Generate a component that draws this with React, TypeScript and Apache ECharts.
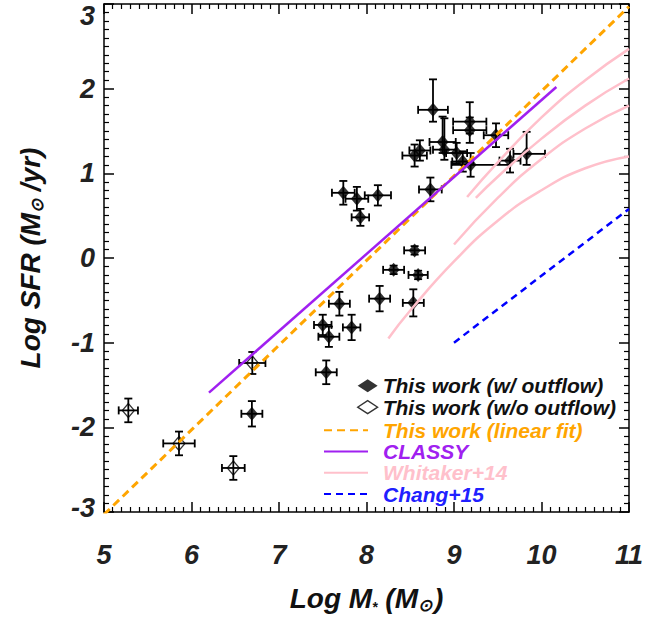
import React, { useEffect, useRef } from "react";
import * as echarts from "echarts";

// [logM, logSFR, xErrLow, xErrHigh, yErrLow, yErrHigh]
const withOutflow: number[][] = [
  [8.76, 1.75, 0.17, 0.17, 0.14, 0.36],
  [9.18, 1.61, 0.19, 0.19, 0.14, 0.23],
  [9.18, 1.51, 0.19, 0.19, 0.15, 0.15],
  [9.48, 1.45, 0.14, 0.14, 0.14, 0.14],
  [8.87, 1.37, 0.15, 0.15, 0.13, 0.3],
  [8.55, 1.21, 0.14, 0.14, 0.13, 0.13],
  [8.61, 1.27, 0.12, 0.12, 0.12, 0.12],
  [8.89, 1.28, 0.13, 0.13, 0.12, 0.37],
  [9.03, 1.24, 0.12, 0.12, 0.12, 0.12],
  [9.1, 1.14, 0.12, 0.12, 0.12, 0.12],
  [9.19, 1.1, 0.22, 0.45, 0.14, 0.14],
  [9.64, 1.15, 0.12, 0.12, 0.14, 0.14],
  [9.83, 1.23, 0.15, 0.21, 0.13, 0.26],
  [7.735, 0.77, 0.13, 0.13, 0.14, 0.14],
  [7.89, 0.7, 0.13, 0.13, 0.14, 0.14],
  [8.13, 0.74, 0.15, 0.15, 0.12, 0.12],
  [7.93, 0.48, 0.1, 0.1, 0.1, 0.1],
  [8.73, 0.81, 0.13, 0.13, 0.14, 0.14],
  [8.55, 0.09, 0.12, 0.12, 0.05, 0.05],
  [8.31, -0.14, 0.12, 0.12, 0.05, 0.05],
  [8.59, -0.2, 0.11, 0.11, 0.05, 0.05],
  [8.15, -0.48, 0.12, 0.12, 0.15, 0.15],
  [8.535, -0.53, 0.12, 0.12, 0.16, 0.16],
  [7.69, -0.54, 0.12, 0.12, 0.14, 0.14],
  [7.5, -0.79, 0.1, 0.1, 0.12, 0.12],
  [7.83, -0.82, 0.1, 0.1, 0.15, 0.15],
  [7.57, -0.93, 0.12, 0.12, 0.12, 0.12],
  [7.54, -1.35, 0.12, 0.12, 0.14, 0.14],
  [6.69, -1.84, 0.12, 0.12, 0.15, 0.15],
];

const withoutOutflow: number[][] = [
  [6.695, -1.24, 0.15, 0.15, 0.13, 0.13],
  [5.278, -1.8, 0.11, 0.11, 0.14, 0.14],
  [5.857, -2.19, 0.18, 0.18, 0.14, 0.14],
  [6.478, -2.48, 0.13, 0.13, 0.14, 0.14],
];

const linearFit: number[][] = [[5.0, -3.03], [11.0, 2.97]];
const classy: number[][] = [[6.2, -1.59], [10.17, 2.02]];
const chang15: number[][] = [[9.0, -1.0], [11.0, 0.58]];
const whitakerA: number[][] = [[9.15, 0.72], [9.5, 1.13], [10.0, 1.66], [10.5, 2.1], [11.0, 2.47]];
const whitakerB: number[][] = [[9.25, 0.71], [9.5, 0.96], [10.0, 1.41], [10.5, 1.8], [11.0, 2.12]];
const whitakerC: number[][] = [[9.0, 0.16], [9.5, 0.71], [10.0, 1.17], [10.5, 1.53], [11.0, 1.8]];
const whitakerD: number[][] = [[8.25, -0.95], [8.5, -0.62], [9.0, -0.04], [9.5, 0.44], [10.0, 0.8], [10.5, 1.06], [11.0, 1.2]];

const xMin = 5, xMax = 11, yMin = -3, yMax = 3;

const FONT = "'Liberation Sans', Arial, sans-serif";

const errRender = (params: any, api: any) => {
  const x = api.value(0), y = api.value(1);
  const xl = api.value(2), xh = api.value(3), yl = api.value(4), yh = api.value(5);
  const c = api.coord([x, y]);
  const l = api.coord([x - xl, y]);
  const r = api.coord([x + xh, y]);
  const t = api.coord([x, y + yh]);
  const b = api.coord([x, y - yl]);
  const cap = 4;
  const st = { stroke: "#000", lineWidth: 1.8 };
  const ln = (x1: number, y1: number, x2: number, y2: number) => ({
    type: "line",
    shape: { x1, y1, x2, y2 },
    style: st,
  });
  return {
    type: "group",
    children: [
      ln(l[0], c[1], r[0], c[1]),
      ln(c[0], t[1], c[0], b[1]),
      ln(l[0], c[1] - cap, l[0], c[1] + cap),
      ln(r[0], c[1] - cap, r[0], c[1] + cap),
      ln(c[0] - cap, t[1], c[0] + cap, t[1]),
      ln(c[0] - cap, b[1], c[0] + cap, b[1]),
    ],
  };
};

const labelFont = { fontFamily: FONT, fontWeight: "bold" as const, fontStyle: "italic" as const, fontSize: 27, color: "#222" };
const legendFont = { fontFamily: FONT, fontWeight: "bold" as const, fontStyle: "italic" as const, fontSize: 21, lineHeight: 21.3 };

export default function App() {
  const ref = useRef<HTMLDivElement>(null);
  useEffect(() => {
    if (!ref.current) return;
    const chart = echarts.init(ref.current, undefined, { renderer: "svg" });
    const axisCommon = {
      type: "value" as const,
      axisLine: { show: true, onZero: false, lineStyle: { color: "#000", width: 1.5 } },
      axisTick: { show: true, inside: true, length: 10, lineStyle: { color: "#000", width: 1.5 } },
      minorTick: { show: true, splitNumber: 10, length: 5, lineStyle: { color: "#000", width: 1.2 } },
      splitLine: { show: false },
    };
    const lineSeries = (name: string, data: number[][], color: string, width: number, type: any, smooth = false) => ({
      name,
      type: "line",
      data,
      smooth,
      symbol: "none",
      showSymbol: false,
      clip: true,
      z: 4,
      lineStyle: { color, width, type },
      itemStyle: { color },
    });
    chart.setOption({
      animation: false,
      backgroundColor: "#fff",
      grid: { left: 104, right: 38, top: 4, bottom: 103 },
      xAxis: [
        {
          ...axisCommon,
          min: xMin,
          max: xMax,
          interval: 1,
          position: "bottom",
          axisLabel: { ...labelFont, margin: 29 },
          name: "Log M{s1|*} (M{s2|⊙})",
          nameLocation: "middle",
          nameGap: 70,
          nameTextStyle: {
            fontFamily: FONT, fontWeight: "bold", fontStyle: "italic", fontSize: 28, color: "#111",
            rich: {
              s1: { fontFamily: FONT, fontWeight: "bold", fontSize: 14, color: "#111", padding: [18, 0, 0, 0] },
              s2: { fontFamily: FONT, fontSize: 17, color: "#111", padding: [14, 2, 0, 0] },
            },
          },
        },
        {
          ...axisCommon,
          min: xMin,
          max: xMax,
          interval: 1,
          position: "top",
          axisLabel: { show: false },
        },
      ],
      yAxis: [
        {
          ...axisCommon,
          min: yMin,
          max: yMax,
          interval: 1,
          position: "left",
          axisLabel: {
            ...labelFont,
            margin: 9,
            formatter: (v: number) => (v === 3 ? "{t|3}" : v === -3 ? "{b|-3}" : "{n|" + v + "}"),
            rich: {
              t: { ...labelFont, padding: [24, 0, 0, 0] },
              b: { ...labelFont, padding: [0, 0, 8, 0] },
              n: { ...labelFont },
            },
          },
          name: "Log SFR (M{s2|⊙} /yr)",
          nameLocation: "middle",
          nameRotate: 90,
          nameGap: 58,
          nameTextStyle: {
            fontFamily: FONT, fontWeight: "bold", fontStyle: "italic", fontSize: 28, color: "#111",
            rich: {
              s2: { fontFamily: FONT, fontSize: 17, color: "#111", padding: [14, 0, 0, 0] },
            },
          },
        },
        {
          ...axisCommon,
          min: yMin,
          max: yMax,
          interval: 1,
          position: "right",
          axisLabel: { show: false },
        },
      ],
      legend: [
        {
          data: [
            { name: "This work (w/ outflow)", icon: "diamond" },
            { name: "This work (w/o outflow)", icon: "diamond", itemStyle: { color: "#fff", borderColor: "#000", borderWidth: 1.3 } },
          ],
          orient: "vertical",
          left: 357,
          top: 375,
          padding: 0,
          itemWidth: 20,
          itemHeight: 13,
          itemGap: 0.2,
          selectedMode: false,
          textStyle: { ...legendFont, color: "#111" },
        },
        {
          data: [
            { name: "This work (linear fit)", textStyle: { color: "#FFA500" } },
            { name: "CLASSY", textStyle: { color: "#A020F0" } },
            { name: "Whitaker+14", textStyle: { color: "#FFC0CB" } },
            { name: "Chang+15", textStyle: { color: "#2020FF" } },
          ],
          orient: "vertical",
          left: 323,
          top: 419.5,
          padding: 0,
          itemWidth: 44,
          itemHeight: 13,
          itemGap: 0,
          selectedMode: false,
          itemStyle: { opacity: 0 },
          textStyle: { ...legendFont, padding: [0, 0, 0, 10] },
        },
      ],
      series: [
        {
          type: "custom",
          renderItem: errRender,
          data: withOutflow,
          encode: { x: 0, y: 1 },
          z: 2,
          silent: true,
        },
        {
          type: "custom",
          renderItem: errRender,
          data: withoutOutflow,
          encode: { x: 0, y: 1 },
          z: 2,
          silent: true,
        },
        {
          name: "This work (w/ outflow)",
          type: "scatter",
          symbol: "diamond",
          symbolSize: [12, 14],
          data: withOutflow.map((d) => [d[0], d[1]]),
          itemStyle: { color: "#000" },
          z: 3,
        },
        {
          name: "This work (w/o outflow)",
          type: "scatter",
          symbol: "diamond",
          symbolSize: [12, 14],
          data: withoutOutflow.map((d) => [d[0], d[1]]),
          itemStyle: { color: "rgba(255,255,255,0)", borderColor: "#000", borderWidth: 1.3 },
          z: 3,
        },
        lineSeries("This work (linear fit)", linearFit, "#FFA500", 3, [8, 5]),
        lineSeries("CLASSY", classy, "#A020F0", 2.5, "solid"),
        lineSeries("Whitaker+14", whitakerA, "#FFC0CB", 2.5, "solid", true),
        lineSeries("Whitaker+14", whitakerB, "#FFC0CB", 2.5, "solid", true),
        lineSeries("Whitaker+14", whitakerC, "#FFC0CB", 2.5, "solid", true),
        lineSeries("Whitaker+14", whitakerD, "#FFC0CB", 2.5, "solid", true),
        lineSeries("Chang+15", chang15, "#0000FF", 2.5, [7, 5]),
      ],
    });
    return () => chart.dispose();
  }, []);
  return <div ref={ref} style={{ position: "fixed", left: 0, top: 0, width: 667, height: 619 }} />;
}
